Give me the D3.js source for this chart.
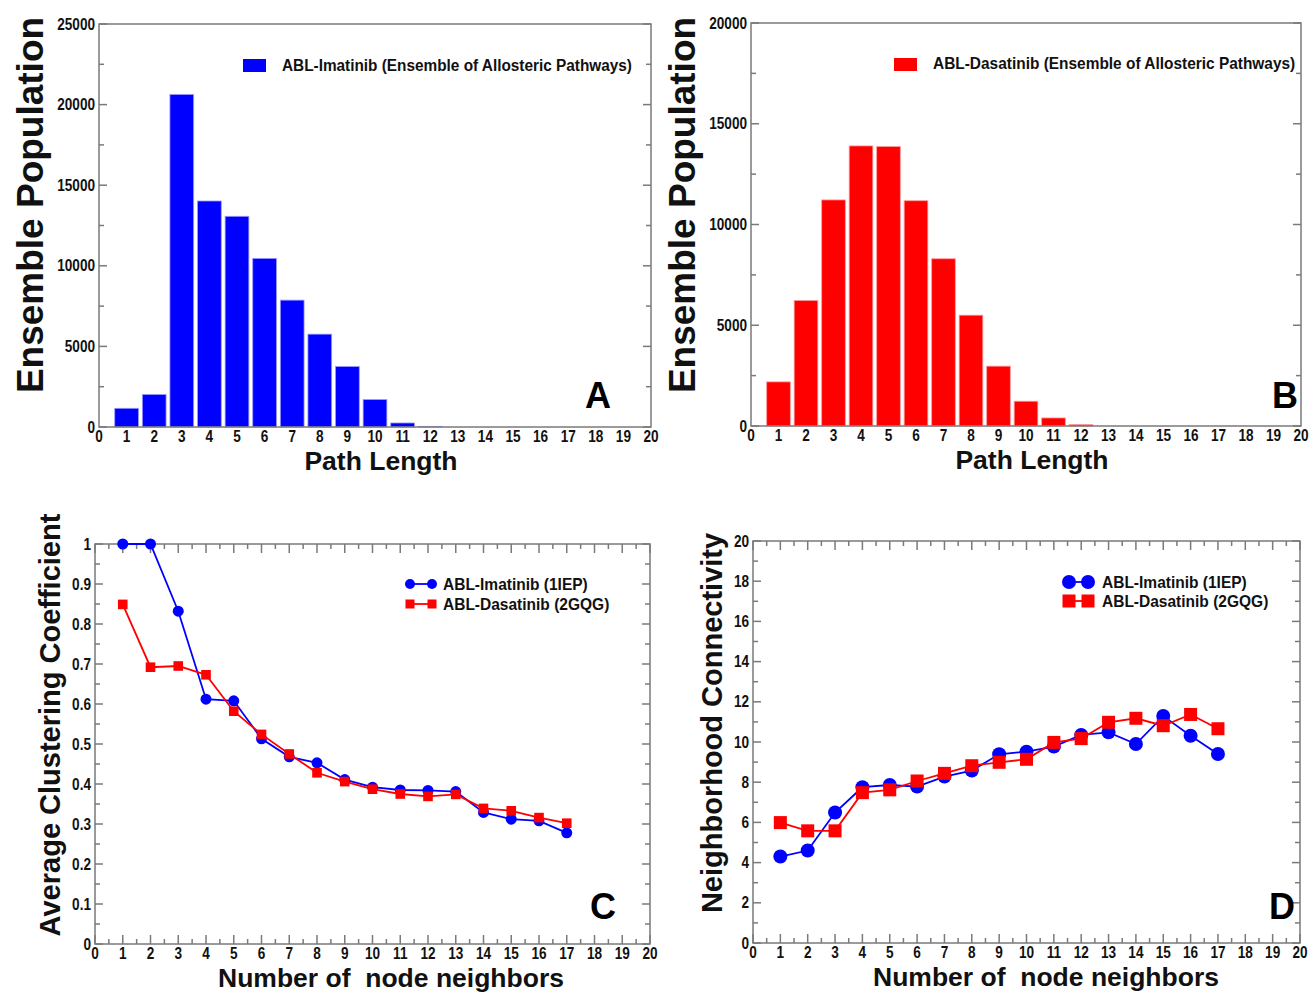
<!DOCTYPE html>
<html>
<head>
<meta charset="utf-8">
<script src="https://cdn.jsdelivr.net/npm/d3@7"></script>
<style>
html,body{margin:0;padding:0;background:#fff;}
svg{display:block;}
</style>
</head>
<body>
<svg id="chart" width="1313" height="992"></svg>
<script>
// ---------------- DATA ----------------
const pathLengths = [1,2,3,4,5,6,7,8,9,10,11,12];
const imatinibPopulation = [1160,2020,20630,14020,13070,10460,7870,5760,3750,1700,250,40];
const dasatinibPopulation = [2190,6230,11220,13900,13870,11180,8300,5500,2970,1230,400,70];

const neighbors = [1,2,3,4,5,6,7,8,9,10,11,12,13,14,15,16,17];
const imatinibClustering = [1.0,1.0,0.832,0.612,0.608,0.513,0.468,0.453,0.411,0.392,0.385,0.384,0.381,0.329,0.312,0.308,0.278];
const dasatinibClustering = [0.849,0.692,0.695,0.673,0.582,0.524,0.475,0.428,0.406,0.387,0.375,0.369,0.374,0.339,0.333,0.316,0.302];
const imatinibConnectivity = [4.30,4.60,6.49,7.75,7.86,7.78,8.28,8.58,9.39,9.52,9.77,10.35,10.48,9.90,11.29,10.31,9.40];
const dasatinibConnectivity = [5.99,5.58,5.58,7.48,7.62,8.06,8.44,8.82,8.99,9.14,9.98,10.17,10.98,11.18,10.81,11.37,10.66];

const xTickValues = d3.range(0, 21);
const popTicksA = [0,5000,10000,15000,20000,25000];
const popTicksB = [0,5000,10000,15000,20000];
const clusterTicks = [0,0.1,0.2,0.3,0.4,0.5,0.6,0.7,0.8,0.9,1];
const connTicks = [0,2,4,6,8,10,12,14,16,18,20];

const labelImatinibBars = "ABL-Imatinib (Ensemble of Allosteric Pathways)";
const labelDasatinibBars = "ABL-Dasatinib (Ensemble of Allosteric Pathways)";
const labelImatinib = "ABL-Imatinib (1IEP)";
const labelDasatinib = "ABL-Dasatinib (2GQG)";

// ---------------- STYLE ----------------
const BLUE = "#0000ff", RED = "#ff0000", FRAME = "#7a7a7a";
const FONT = "'Liberation Sans', Arial, sans-serif";

const svg = d3.select("#chart");

// condensed text helper: horizontally scaled text
function ctext(parent, x, y, txt, size, sx, anchor) {
  return parent.append("text")
    .attr("transform", `translate(${x},${y}) scale(${sx},1)`)
    .attr("font-family", FONT).attr("font-weight", "bold")
    .attr("font-size", size).attr("text-anchor", anchor || "start")
    .attr("fill", "#111").text(txt);
}

function panel(o) {
  const g = svg.append("g");
  const x = d3.scaleLinear().domain([0,20]).range([o.left, o.right]);
  const y = d3.scaleLinear().domain(o.yDomain).range([o.bottom, o.top]);

  // Ticks (inward)
  const tk = g.append("g").attr("stroke", FRAME).attr("stroke-width", 1.5);
  o.yMinor.forEach(v => {
    const len = o.yMajor.includes(v) ? 8 : 5;
    tk.append("line").attr("x1", o.left).attr("x2", o.left + len).attr("y1", y(v)).attr("y2", y(v));
    tk.append("line").attr("x1", o.right).attr("x2", o.right - len).attr("y1", y(v)).attr("y2", y(v));
  });
  if (o.xMinor) {
    o.xMinor.forEach(v => {
      const len = Number.isInteger(v) ? 9 : 5;
      tk.append("line").attr("x1", x(v)).attr("x2", x(v)).attr("y1", o.bottom).attr("y2", o.bottom - len);
      tk.append("line").attr("x1", x(v)).attr("x2", x(v)).attr("y1", o.top).attr("y2", o.top + len);
    });
  }

  // Tick labels
  const xl = g.append("g");
  xTickValues.forEach(v => ctext(xl, x(v), o.bottom + 15, String(v), 17, 0.8, "middle"));
  const yl = g.append("g");
  o.yMajor.forEach(v => ctext(yl, o.left - 4, y(v) + 5.5, String(v), 17, 0.8, "end"));

  // Axis labels
  g.append("text").attr("font-family", FONT).attr("font-weight", "bold")
    .attr("font-size", o.xLabelSize).attr("text-anchor", "middle").attr("fill", "#111")
    .attr("x", o.xLabelX).attr("y", o.xLabelY).text(o.xLabel);
  g.append("text").attr("font-family", FONT).attr("font-weight", "bold")
    .attr("font-size", o.yLabelSize).attr("text-anchor", "middle").attr("fill", "#111")
    .attr("transform", `translate(${o.yLabelX},${o.yLabelY}) rotate(-90)`).text(o.yLabel);

  // Panel letter
  g.append("text").attr("font-family", FONT).attr("font-weight", "bold")
    .attr("font-size", 36).attr("text-anchor", "middle").attr("fill", "#000")
    .attr("x", o.letterX).attr("y", o.letterY).text(o.letter);

  return {g, x, y};
}

function framePanel(p, o) {
  p.g.append("rect").attr("x", o.left).attr("y", o.top)
    .attr("width", o.right - o.left).attr("height", o.bottom - o.top)
    .attr("fill", "none").attr("stroke", FRAME).attr("stroke-width", 1.5);
}

// ---------- Panel A ----------
const oA = {left:99, right:651, top:24, bottom:427, yDomain:[0,25000],
  yMajor:popTicksA, yMinor:d3.range(0,25001,2500),
  xLabel:"Path Length", xLabelSize:26.5, xLabelX:381, xLabelY:470,
  yLabel:"Ensemble Population", yLabelSize:37, yLabelX:43, yLabelY:205,
  letter:"A", letterX:598, letterY:408};
const pA = panel(oA);
const bwA = (pA.x(1) - pA.x(0)) * 0.86;
pA.g.selectAll("rect.bar").data(pathLengths).join("rect").attr("class","bar")
  .attr("x", d => pA.x(d) - bwA/2).attr("width", bwA)
  .attr("y", (d,i) => pA.y(imatinibPopulation[i]))
  .attr("height", (d,i) => pA.y(0) - pA.y(imatinibPopulation[i]))
  .attr("fill", BLUE).attr("stroke", "#9a9aff").attr("stroke-width", 0.8);
framePanel(pA, oA);
pA.g.append("rect").attr("x", 243).attr("y", 59).attr("width", 23).attr("height", 13).attr("fill", BLUE);
ctext(pA.g, 282, 71, labelImatinibBars, 16, 0.96);

// ---------- Panel B ----------
const oB = {left:751, right:1301, top:23, bottom:426, yDomain:[0,20000],
  yMajor:popTicksB, yMinor:d3.range(0,20001,2500),
  xLabel:"Path Length", xLabelSize:26.5, xLabelX:1032, xLabelY:469,
  yLabel:"Ensemble Population", yLabelSize:37, yLabelX:695, yLabelY:205,
  letter:"B", letterX:1285, letterY:408};
const pB = panel(oB);
const bwB = (pB.x(1) - pB.x(0)) * 0.86;
pB.g.selectAll("rect.bar").data(pathLengths).join("rect").attr("class","bar")
  .attr("x", d => pB.x(d) - bwB/2).attr("width", bwB)
  .attr("y", (d,i) => pB.y(dasatinibPopulation[i]))
  .attr("height", (d,i) => pB.y(0) - pB.y(dasatinibPopulation[i]))
  .attr("fill", RED).attr("stroke", "#ff9a9a").attr("stroke-width", 0.8);
framePanel(pB, oB);
pB.g.append("rect").attr("x", 894).attr("y", 58).attr("width", 23).attr("height", 13).attr("fill", RED);
ctext(pB.g, 933, 69, labelDasatinibBars, 16, 0.965);

// ---------- line helpers ----------
function series(p, xs, ys, color, shape, size, width) {
  const line = d3.line().x((d,i) => p.x(xs[i])).y(d => p.y(d));
  p.g.append("path").datum(ys).attr("d", line).attr("fill","none")
    .attr("stroke", color).attr("stroke-width", width);
  if (shape === "circle") {
    p.g.selectAll(null).data(ys).join("circle")
      .attr("cx", (d,i) => p.x(xs[i])).attr("cy", d => p.y(d)).attr("r", size)
      .attr("fill", color);
  } else {
    p.g.selectAll(null).data(ys).join("rect")
      .attr("x", (d,i) => p.x(xs[i]) - size).attr("y", d => p.y(d) - size)
      .attr("width", size*2).attr("height", size*2).attr("fill", color);
  }
}
function legend(p, x0, x1, y1, y2, tx, r, s, width, fs, sx) {
  const items = [[y1, BLUE, "circle", labelImatinib],[y2, RED, "rect", labelDasatinib]];
  items.forEach(([yy, c, shape, txt]) => {
    p.g.append("line").attr("x1", x0).attr("x2", x1).attr("y1", yy).attr("y2", yy)
      .attr("stroke", c).attr("stroke-width", width);
    [x0, x1].forEach(xx => {
      if (shape === "circle") p.g.append("circle").attr("cx", xx).attr("cy", yy).attr("r", r).attr("fill", c);
      else p.g.append("rect").attr("x", xx - s).attr("y", yy - s).attr("width", 2*s).attr("height", 2*s).attr("fill", c);
    });
    ctext(p.g, tx, yy + 5.5, txt, fs, sx);
  });
}

// ---------- Panel C ----------
const oC = {left:95, right:650, top:544, bottom:944, yDomain:[0,1],
  yMajor:clusterTicks.map(v => +v.toFixed(2)), yMinor:d3.range(0,21).map(i => +(i*0.05).toFixed(2)),
  xMinor:d3.range(0,41).map(i => i*0.5),
  xLabel:"Number of\u00a0 node neighbors", xLabelSize:26.5, xLabelX:391, xLabelY:987,
  yLabel:"Average Clustering Coefficient", yLabelSize:29, yLabelX:60, yLabelY:725,
  letter:"C", letterX:603, letterY:919};
const pC = panel(oC);
framePanel(pC, oC);
series(pC, neighbors, imatinibClustering, BLUE, "circle", 5.5, 1.8);
series(pC, neighbors, dasatinibClustering, RED, "rect", 4.8, 1.8);
legend(pC, 410, 432, 584, 604, 443, 5, 4.5, 1.8, 16, 0.97);

// ---------- Panel D ----------
const oD = {left:753, right:1300, top:541, bottom:943, yDomain:[0,20],
  yMajor:connTicks, yMinor:d3.range(0,21),
  xMinor:d3.range(0,41).map(i => i*0.5),
  xLabel:"Number of\u00a0 node neighbors", xLabelSize:26.5, xLabelX:1046, xLabelY:986,
  yLabel:"Neighborhood Connectivity", yLabelSize:29, yLabelX:722, yLabelY:723,
  letter:"D", letterX:1282, letterY:919};
const pD = panel(oD);
framePanel(pD, oD);
series(pD, neighbors, imatinibConnectivity, BLUE, "circle", 7, 1.8);
series(pD, neighbors, dasatinibConnectivity, RED, "rect", 6.5, 1.8);
legend(pD, 1069, 1088, 582, 601, 1102, 7, 6.5, 1.8, 16, 0.97);
</script>
</body>
</html>
